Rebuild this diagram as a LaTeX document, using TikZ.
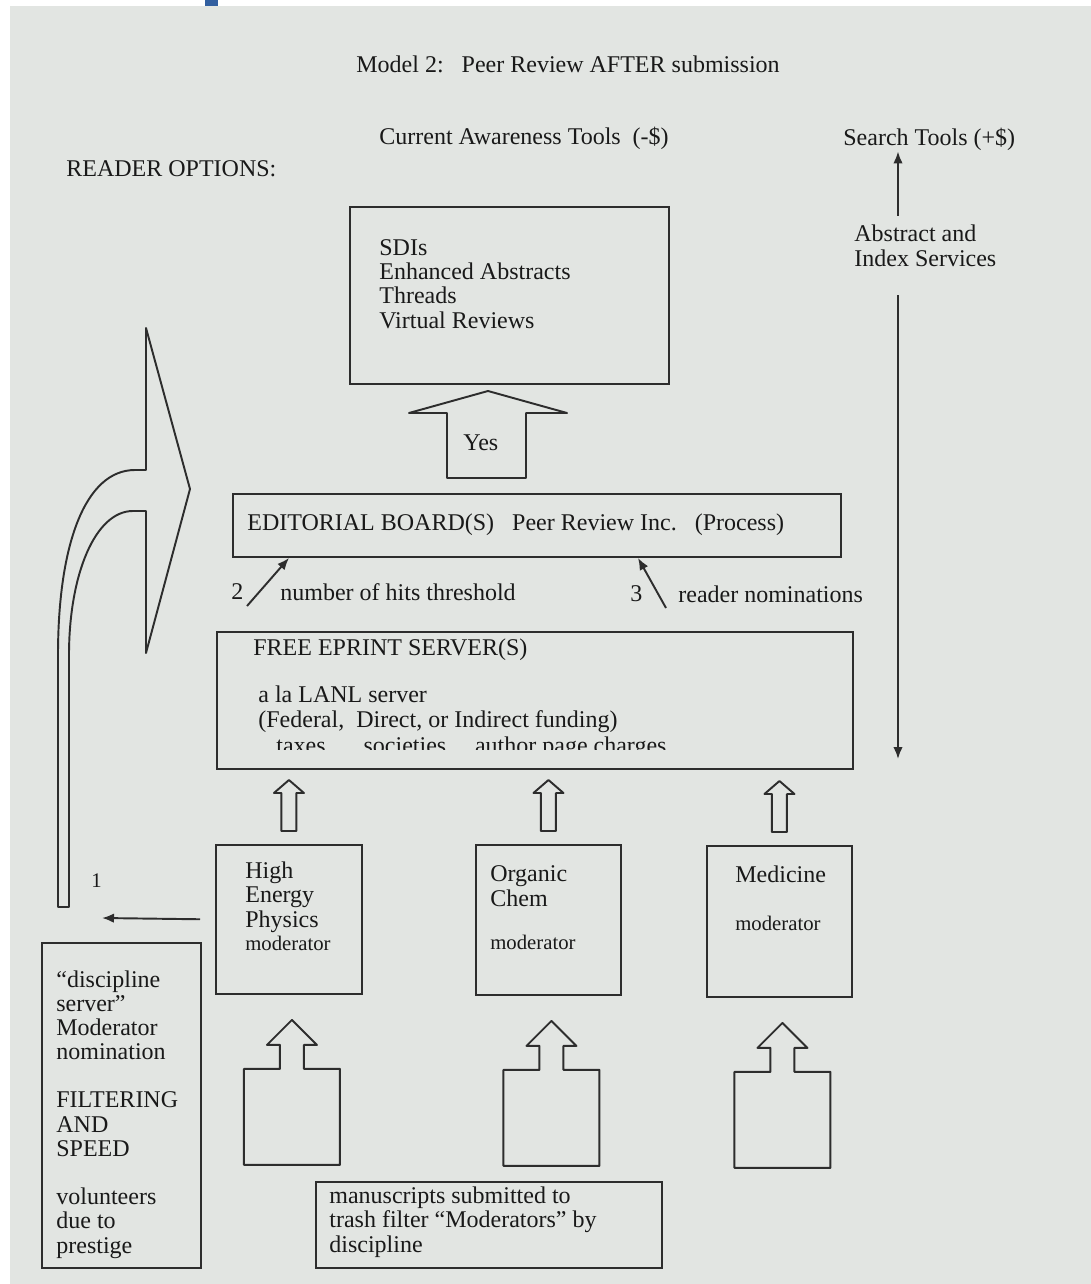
\documentclass[tikz,border=0pt]{standalone}
\usepackage{fontspec}
\setmainfont{Liberation Serif}
\usetikzlibrary{positioning,calc,arrows.meta}

\definecolor{paper}{RGB}{226,229,226}
\definecolor{ink}{RGB}{45,45,45}
\definecolor{textink}{RGB}{25,25,25}
\definecolor{tabblue}{RGB}{50,95,160}

\begin{document}
\begin{tikzpicture}[x=0.02cm, y=-0.02cm,
    box/.style={draw=ink, line width=1.1pt, rectangle, anchor=north west, inner sep=0pt},
    lbl/.style={text=textink, inner sep=0pt, anchor=base west, align=left, font=\fontsize{13.66pt}{13.8pt}\selectfont},
    smalllbl/.style={lbl, font=\fontsize{11.8pt}{12pt}\selectfont},
    hollow/.style={draw=ink, line width=1.1pt, line join=round},
    link/.style={draw=ink, line width=1.1pt, -{Latex[length=2.4mm, width=1.9mm]}}]

\useasboundingbox (0,0) rectangle (1091,1284);
\fill[paper] (10,6) rectangle (1091,1284);
\fill[tabblue] (205,0) rectangle (218,6);

% headings
\node[lbl] (title) at (356,73) {Model 2:\ \ \ Peer Review AFTER submission};
\node[lbl] (awareness) at (379,145) {Current Awareness Tools\ \ (-\$)};
\node[lbl] (search) at (843,146) {Search Tools (+\$)};
\node[lbl] (reader) at (66,177) {READER OPTIONS:};

% current awareness tools (multi-line texts sit on their last baseline)
\node[box, minimum width=6.38cm, minimum height=3.54cm] (sdis) at (349,206) {};
\node[lbl] (sdislist) at (379,328) {SDIs\\Enhanced Abstracts\\Threads\\Virtual Reviews};

\draw[hollow] (447,478) -- (447,413) -- (409,413) -- (488,391) -- (567,413) -- (526,413) -- (526,478) -- cycle;
\node[lbl] (yes) at (463,450) {Yes};

% editorial board
\node[box, minimum width=12.16cm, minimum height=1.26cm] (editorial) at (232,493) {};
\node[lbl] (edtext) at (247,530) {EDITORIAL BOARD(S)\ \ \ Peer Review Inc.\ \ \ (Process)};

\node[lbl] (two) at (231,599) {2};
\node[lbl] (hits) at (280,600) {number of hits threshold};
\node[lbl] (three) at (630,601) {3};
\node[lbl] (nominations) at (678,602) {reader nominations};
\coordinate (hitsfoot) at (247,606);
\coordinate (nomfoot) at (666,608);
\draw[link] (hitsfoot) -- ($(editorial.south west)+(57,0)$);
\draw[link] (nomfoot) -- ($(editorial.south west)+(406,0)$);

% eprint server
\node[box, minimum width=12.72cm, minimum height=2.74cm] (eprint) at (216,631) {};
\node[lbl] (eprinthead) at (253,655) {FREE EPRINT SERVER(S)};
\node[lbl] (lanl) at (258,727) {a la LANL server\\(Federal,\ \ Direct, or Indirect funding)};
\begin{scope}
  \clip (216,631) rectangle (852,749);
  \node[lbl] (funding) at (276,753) {taxes\hspace{1.58em}societies\hspace{1.2em}author page charges};
\end{scope}

% search tools axis
\coordinate (axistop) at (898,216);
\coordinate (axisbot) at (898,295);
\coordinate (axisend) at (898,759);
\draw[link] (axistop) -- (search.south -| axistop);
\node[lbl] (abstracts) at (854,266) {Abstract and\\Index Services};
\draw[link] (axisbot) -- (axisend);

% discipline moderators
\node[box, minimum width=2.92cm, minimum height=2.98cm] (hep) at (215,844) {};
\node[lbl] (heptext) at (245,927) {High\\Energy\\Physics};
\node[smalllbl] (hepmod) at (245,950) {moderator};
\node[box, minimum width=2.90cm, minimum height=3.00cm] (orgchem) at (475,844) {};
\node[lbl] (orgtext) at (490,906) {Organic\\Chem};
\node[smalllbl] (orgmod) at (490,949) {moderator};
\node[box, minimum width=2.90cm, minimum height=3.02cm] (medicine) at (706,845) {};
\node[lbl] (medtext) at (735,882) {Medicine};
\node[smalllbl] (medmod) at (735,930) {moderator};

\foreach \disc in {hep,orgchem,medicine}
  \draw[hollow] ($(\disc.north)+(-7.5,-13)$) -- ++(0,-38) -- ++(-7.5,0) -- ++(15,-13) -- ++(15,13) -- ++(-7.5,0) -- ++(0,38) -- cycle;

\foreach \disc in {hep,orgchem,medicine}
  \draw[hollow] ($(\disc.south)+(-45,170)$) -- ++(0,-96) -- ++(36,0) -- ++(0,-24) -- ++(-13,0) -- ++(25,-25) -- ++(25,25) -- ++(-13,0) -- ++(0,24) -- ++(36,0) -- ++(0,96) -- cycle;

% reader option 1
\node[box, minimum width=3.18cm, minimum height=6.50cm] (discipline) at (41,942) {};
\node[lbl] (disctext) at (56,1253) {“discipline\\server”\\Moderator\\nomination\\[13.6pt]FILTERING\\AND\\SPEED\\[13.6pt]volunteers\\due to\\prestige};
\node[smalllbl] (one) at (91,887) {1};
\coordinate (tubefoot) at (102,918);
\draw[link, shorten <=0.3cm] (hep.west) -- (tubefoot);

\draw[hollow] (58,907) -- (58,655) .. controls (58,545) and (85,470) .. (135,470) -- (146,470) -- (146,328) -- (190,489) -- (146,653) -- (146,511) -- (133,511) .. controls (95,511) and (69,575) .. (69,655) -- (69,907) -- cycle;

% submissions
\node[box, minimum width=6.92cm, minimum height=1.72cm] (manuscripts) at (315,1181) {};
\node[lbl] (mstext) at (329,1252) {manuscripts submitted to\\trash filter “Moderators” by\\discipline};
\end{tikzpicture}
\end{document}
